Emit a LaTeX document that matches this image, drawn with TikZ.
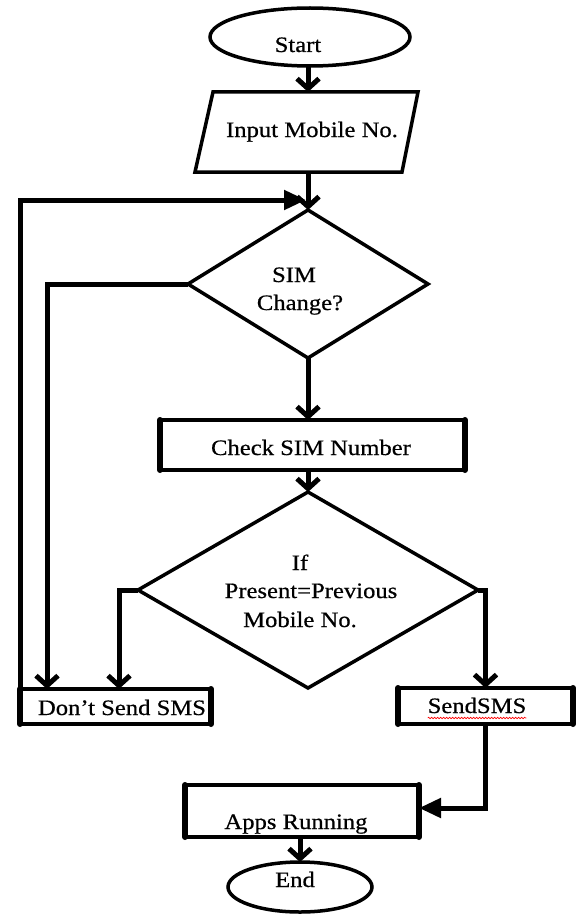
\documentclass[tikz,border=0pt]{standalone}
\usepackage{fontspec}
\setmainfont[FakeStretch=1.12,FakeBold=0.6]{Liberation Serif}
\usetikzlibrary{shapes.geometric,arrows.meta,decorations.pathmorphing}
\begin{document}
\begin{tikzpicture}[x=1pt,y=-1pt,
  every node/.style={inner sep=0pt, outer sep=0pt},
  term/.style={ellipse, draw, line width=3.5pt},
  decision/.style={diamond, draw, line width=3.5pt},
  iobox/.style={draw, line width=3.5pt, line join=miter},
  procbox/.style={rectangle, draw, line width=3.5pt},
  txt/.style={anchor=base, font=\fontsize{22}{28}\selectfont},
  flow/.style={line width=5pt, -{Straight Barb[length=10pt,width=22pt]}},
  flowfill/.style={line width=5pt, -{Triangle[length=22pt,width=19pt]}},
  boxside/.style={line width=6pt, line cap=round},
]
\useasboundingbox (0,0) rectangle (576,915);

% shapes
\node[term, minimum width=200, minimum height=58] (start) at (310,37) {};
% input parallelogram
\coordinate (inTL) at (213,92);
\coordinate (inTR) at (418,92);
\coordinate (inBR) at (402,172);
\coordinate (inBL) at (195,172);
\draw[iobox] (inTL) -- (inTR) -- (inBR) -- (inBL) -- cycle;
\coordinate (inTop) at (308,92);
\coordinate (inBot) at (308,172);
\node[decision, minimum width=240, minimum height=148] (d1) at (308,284) {};
\node[procbox, minimum width=305, minimum height=50] (chk) at (312.5,445) {};
\node[decision, minimum width=340, minimum height=196] (d2) at (308,590) {};
\node[procbox, minimum width=191, minimum height=35] (dont) at (115.5,706.5) {};
\node[procbox, minimum width=175, minimum height=36] (send) at (485.5,706) {};
\node[procbox, minimum width=234, minimum height=52] (apps) at (302,811) {};
\node[term, minimum width=144, minimum height=50] (end) at (300,887) {};

% heavy side bars of the process boxes
\foreach \b in {chk,dont,send,apps}{
  \draw[boxside] (\b.north west) -- (\b.south west);
  \draw[boxside] (\b.north east) -- (\b.south east);
}

% texts
\node[txt] (startT) at (298,52) {Start};
\node[txt] (inputT) at (312,137) {Input Mobile No.};
\node[txt] (d1a) at (294,282) {SIM};
\node[txt] (d1b) at (300,310) {Change?};
\node[txt] (chkT) at (311,455) {Check SIM Number};
\node[txt] (d2a) at (300,570) {If};
\node[txt] (d2b) at (311,598) {Present=Previous};
\node[txt] (d2c) at (300,627) {Mobile No.};
\node[txt] (dontT) at (122,715) {Don’t Send SMS};
\node[txt] (sendT) at (477,713) {SendSMS};
\node[txt] (appsT) at (296,829) {Apps Running};
\node[txt] (endT) at (295,887) {End};
\draw[red, line width=0.6pt, decorate, decoration={snake, amplitude=0.8pt, segment length=3pt}]
  ([yshift=-5pt]sendT.base west) -- ([yshift=-5pt]sendT.base east);

% connectors
\coordinate (merge) at (306,200);
\draw[flow] (inTop |- start.south) -- (inTop);
\draw[flow] (inBot) -- (d1.north);
\draw[flowfill] (dont.north west) -- (dont.north west |- merge) -- (merge);
\draw[flow] (d1.west) -| ([xshift=27pt]dont.north west);
\draw[flow] (d1.south) -- (d1.south |- chk.north);
\draw[flow] (chk.south -| d2.north) -- (d2.north);
\draw[flow] (d2.west) -| ([xshift=99pt]dont.north west);
\draw[flow] (d2.east) -| (send.north);
\draw[flowfill] (send.south) |- ([yshift=3pt]apps.east);
\draw[flow] (apps.south -| end.north) -- (end.north);
\end{tikzpicture}
\end{document}
